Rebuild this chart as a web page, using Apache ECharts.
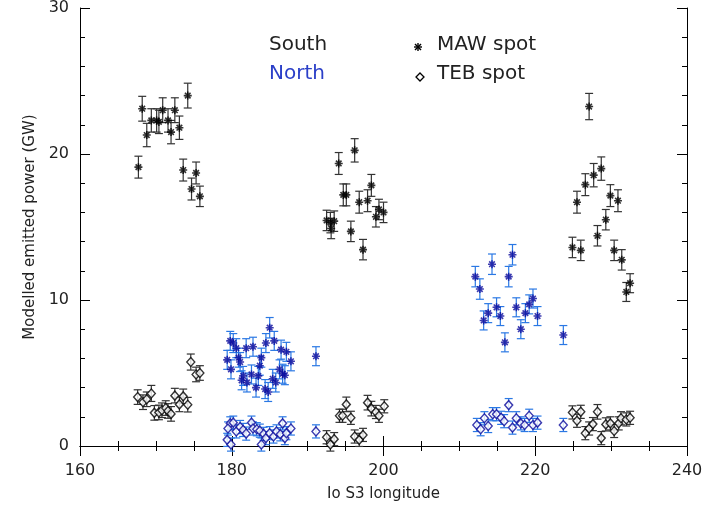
<!DOCTYPE html>
<html>
<head>
<meta charset="utf-8">
<script src="https://cdn.jsdelivr.net/npm/echarts@6/dist/echarts.min.js"></script>
<style>html,body{margin:0;padding:0;background:#fff;}#c{width:712px;height:507px;}</style>
</head>
<body>
<div id="c"></div>
<script>
// [longitude, power, error]
const southMAW = [
[167.7,19.1,0.75],[168.2,23.1,0.85],[168.8,21.3,0.8],[169.4,22.3,0.8],[170.1,22.3,0.8],[170.4,22.2,0.8],[170.9,23.0,0.85],[171.6,22.3,0.8],[172.0,21.5,0.8],[172.5,23.0,0.85],[173.1,21.8,0.8],[173.6,18.9,0.75],[174.2,24.0,0.85],[174.7,17.6,0.75],[175.3,18.7,0.75],[175.8,17.1,0.7],
[192.5,15.45,0.7],[193.0,15.3,0.7],[193.1,14.9,0.7],[193.5,15.4,0.7],[194.1,19.35,0.75],[194.7,17.2,0.75],[195.1,17.2,0.75],[195.7,14.7,0.7],[196.2,20.25,0.8],[196.8,16.7,0.75],[197.3,13.45,0.7],[197.9,16.8,0.75],[198.4,17.85,0.75],[199.0,15.7,0.7],[199.4,16.2,0.7],[200.0,16.0,0.7],
[224.9,13.6,0.7],[225.5,16.7,0.75],[226.0,13.4,0.7],[226.6,17.9,0.75],[227.1,23.25,0.9],[227.7,18.55,0.8],[228.2,14.4,0.7],[228.7,19.0,0.8],[229.3,15.5,0.7],[229.9,17.15,0.75],[230.4,13.4,0.7],[230.9,16.8,0.75],[231.4,12.75,0.7],[232.0,10.55,0.65],[232.5,11.15,0.65]
];
const southTEB = [
[167.6,3.35,0.5],[168.3,3.0,0.5],[168.8,3.2,0.5],[169.4,3.6,0.55],[169.8,2.27,0.5],[170.4,2.3,0.5],[170.8,2.45,0.5],[171.3,2.6,0.5],[171.6,2.4,0.5],[172.0,2.2,0.5],[172.5,3.45,0.5],[173.1,2.85,0.5],[173.6,3.4,0.5],[174.2,2.83,0.5],[174.6,5.75,0.55],[175.3,4.9,0.5],[175.8,5.0,0.5],
[192.5,0.6,0.45],[193.0,0.1,0.45],[193.5,0.47,0.45],[194.2,2.07,0.45],[194.6,2.07,0.45],[195.1,2.85,0.5],[195.7,1.93,0.45],[196.2,0.65,0.45],[196.8,0.42,0.45],[197.3,0.76,0.45],[197.9,2.97,0.5],[198.4,2.56,0.5],[199.0,2.33,0.45],[199.4,2.07,0.45],[200.1,2.72,0.45],
[224.9,2.3,0.45],[225.5,1.73,0.45],[226.0,2.34,0.45],[226.6,0.88,0.45],[227.1,1.2,0.45],[227.6,1.5,0.45],[228.2,2.34,0.5],[228.7,0.54,0.45],[229.3,1.48,0.45],[229.9,1.55,0.45],[230.4,1.03,0.45],[231.0,1.55,0.45],[231.3,1.9,0.45],[232.0,1.82,0.45],[232.5,1.93,0.45]
];
const northMAW = [
[185.0,8.1,0.7],[185.6,7.2,0.65],[184.5,7.05,0.65],[179.8,7.2,0.65],[180.2,7.05,0.65],[180.6,6.7,0.65],[181.9,6.7,0.65],[182.8,6.8,0.65],[186.5,6.6,0.65],[187.2,6.45,0.65],[187.8,5.8,0.65],[179.4,5.9,0.65],[180.9,6.05,0.65],[181.1,5.75,0.65],[183.9,6.05,0.65],[183.7,5.5,0.65],[179.9,5.25,0.65],[183.5,4.8,0.65],[186.3,5.25,0.65],[186.7,4.95,0.65],[187.0,4.85,0.65],[181.5,4.8,0.65],[182.6,4.9,0.65],[181.3,4.5,0.65],[182.0,4.35,0.65],[185.4,4.6,0.65],[185.8,4.35,0.65],[183.2,4.0,0.65],[184.4,3.9,0.65],[184.8,3.7,0.65],[191.1,6.15,0.65],
[217.0,13.1,0.7],[214.3,12.45,0.7],[212.1,11.6,0.7],[216.5,11.6,0.7],[212.7,10.75,0.7],[219.7,10.1,0.65],[219.2,9.7,0.65],[214.9,9.5,0.65],[217.5,9.5,0.65],[213.8,9.1,0.65],[218.7,9.1,0.65],[215.4,8.9,0.65],[220.3,8.9,0.65],[213.2,8.6,0.65],[218.1,8.0,0.65],[216.0,7.1,0.65],[223.7,7.6,0.65]
];
const northTEB = [
[179.8,1.55,0.45],[180.2,1.6,0.45],[179.5,1.2,0.45],[180.6,1.0,0.45],[181.1,1.3,0.45],[181.5,1.1,0.45],[181.9,0.85,0.45],[182.6,1.6,0.45],[182.8,1.2,0.45],[183.3,1.15,0.45],[183.7,1.05,0.45],[179.4,0.42,0.45],[179.9,0.1,0.45],[184.2,0.83,0.45],[184.5,0.54,0.45],[183.9,0.1,0.45],[185.0,0.88,0.45],[185.5,0.65,0.45],[185.9,1.0,0.45],[186.4,0.8,0.45],[186.7,1.55,0.45],[187.0,0.54,0.45],[187.2,0.88,0.45],[187.8,1.2,0.45],[191.1,1.0,0.45],
[216.5,2.8,0.45],[212.3,1.44,0.45],[212.8,1.15,0.45],[213.3,1.9,0.45],[213.8,1.37,0.45],[214.4,2.18,0.45],[214.9,2.18,0.45],[215.5,1.93,0.45],[215.9,1.7,0.45],[217.0,1.26,0.45],[217.5,1.9,0.45],[218.1,1.55,0.45],[218.6,1.44,0.45],[219.2,2.07,0.45],[219.7,1.44,0.45],[220.3,1.6,0.45],[223.7,1.44,0.45]
];
const xTicks = [160, 180, 200, 220, 240];
const yTicks = [0, 10, 20, 30];

const FONT = 'DejaVu Sans';
const southMarker = '#000000', southBar = '#333333';
const northMarker = '#0a0a9c', northBar = '#2a78e4';
const ASTER = 'path://M0,-10L0,10M-10,0L10,0M-7,-7L7,7M-7,7L7,-7';

function errSeries(data, color) {
  return {
    type: 'custom', data: data, z: 2, silent: true,
    renderItem: function (params, api) {
      const x = api.value(0), y = api.value(1), e = api.value(2);
      const top = api.coord([x, y + e]), bot = api.coord([x, y - e]);
      const h = 4;
      const st = { stroke: color, lineWidth: 1.2 };
      return { type: 'group', children: [
        { type: 'line', shape: { x1: top[0], y1: top[1], x2: bot[0], y2: bot[1] }, style: st },
        { type: 'line', shape: { x1: top[0]-h, y1: top[1], x2: top[0]+h, y2: top[1] }, style: st },
        { type: 'line', shape: { x1: bot[0]-h, y1: bot[1], x2: bot[0]+h, y2: bot[1] }, style: st }
      ]};
    }
  };
}
function astSeries(data, color) {
  return { type: 'scatter', data: data, z: 4, symbol: ASTER, symbolSize: 8,
    itemStyle: { color: color, borderColor: color, borderWidth: 1.6 } };
}
function diaSeries(data, color) {
  return { type: 'scatter', data: data, z: 4, symbol: 'diamond', symbolSize: [8, 9],
    itemStyle: { color: '#ffffff', borderColor: color, borderWidth: 1.4 } };
}

const axisCommon = {
  axisLine: { lineStyle: { color: '#000', width: 1 } },
  axisTick: { inside: true, length: 10, lineStyle: { color: '#000' } },
  minorTick: { show: true, length: 5, lineStyle: { color: '#000' } },
  splitLine: { show: false }
};

const option = {
  backgroundColor: '#ffffff',
  animation: false,
  grid: { left: 80, top: 8, width: 607, height: 445, containLabel: false },
  xAxis: [
    Object.assign({ type: 'value', min: 160, max: 240, interval: 20, position: 'bottom',
      name: 'Io S3 longitude', nameLocation: 'middle', nameGap: 41,
      nameTextStyle: { color: '#222', fontFamily: FONT, fontSize: 15 },
      axisLabel: { color: '#222', fontFamily: FONT, fontSize: 16, margin: 17,
        formatter: v => xTicks.includes(v) ? String(v) : '' } },
      axisCommon, { minorTick: { show: true, splitNumber: 4, length: 5, lineStyle: { color: '#000' } } }),
    Object.assign({ type: 'value', min: 160, max: 240, interval: 20, position: 'top',
      axisLabel: { show: false } }, axisCommon,
      { minorTick: { show: true, splitNumber: 4, length: 5, lineStyle: { color: '#000' } } })
  ],
  yAxis: [
    Object.assign({ type: 'value', min: 0, max: 30, interval: 10, position: 'left',
      name: 'Modelled emitted power (GW)', nameLocation: 'middle', nameGap: 39,
      nameTextStyle: { color: '#222', fontFamily: FONT, fontSize: 15 },
      axisLabel: { color: '#222', fontFamily: FONT, fontSize: 16, margin: 11,
        formatter: v => yTicks.includes(v) ? String(v) : '' } },
      axisCommon, { minorTick: { show: true, splitNumber: 5, length: 5, lineStyle: { color: '#000' } } }),
    Object.assign({ type: 'value', min: 0, max: 30, interval: 10, position: 'right',
      axisLabel: { show: false } }, axisCommon,
      { minorTick: { show: true, splitNumber: 5, length: 5, lineStyle: { color: '#000' } } })
  ],
  series: [
    errSeries(southMAW, southBar), errSeries(southTEB, southBar),
    errSeries(northMAW, northBar), errSeries(northTEB, northBar),
    astSeries(southMAW, southMarker), diaSeries(southTEB, southMarker),
    astSeries(northMAW, northMarker), diaSeries(northTEB, northMarker)
  ],
  graphic: [
    { type: 'text', left: 269, top: 35, style: { text: 'South', fill: '#222', font: '20px ' + FONT } },
    { type: 'text', left: 269, top: 64, style: { text: 'North', fill: '#2b3fc8', font: '20px ' + FONT } },
    { type: 'text', left: 437, top: 35, style: { text: 'MAW spot', fill: '#222', font: '20px ' + FONT } },
    { type: 'text', left: 437, top: 64, style: { text: 'TEB spot', fill: '#222', font: '20px ' + FONT } },
    { type: 'line', shape: { x1: 418, y1: 43, x2: 418, y2: 51 }, style: { stroke: '#000', lineWidth: 1.4 } },
    { type: 'line', shape: { x1: 414, y1: 47, x2: 422, y2: 47 }, style: { stroke: '#000', lineWidth: 1.4 } },
    { type: 'line', shape: { x1: 415, y1: 44, x2: 421, y2: 50 }, style: { stroke: '#000', lineWidth: 1.4 } },
    { type: 'line', shape: { x1: 415, y1: 50, x2: 421, y2: 44 }, style: { stroke: '#000', lineWidth: 1.4 } },
    { type: 'polygon', shape: { points: [[420, 73], [424, 77], [420, 81], [416, 77]] }, style: { fill: '#fff', stroke: '#000', lineWidth: 1.3 } }
  ]
};
echarts.init(document.getElementById('c')).setOption(option);
</script>
</body>
</html>
